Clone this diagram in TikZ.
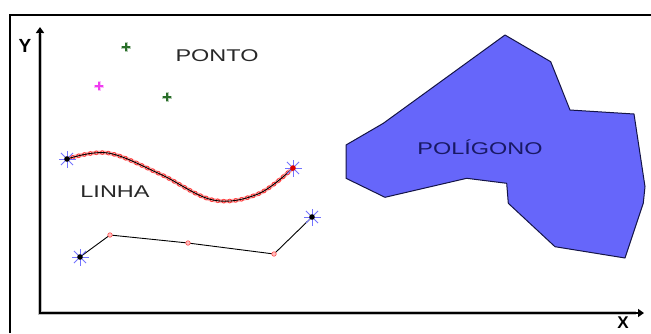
\documentclass[tikz,border=0pt]{standalone}
\usepackage{fontspec}
\setmainfont{Liberation Sans}
\newfontfamily\widefont[FakeStretch=1.38]{Liberation Sans}
\usetikzlibrary{arrows.meta}
\definecolor{polyfill}{RGB}{102,102,250}
\definecolor{polyedge}{RGB}{20,20,70}
\definecolor{polytext}{RGB}{25,25,100}
\definecolor{ptgreen}{RGB}{40,110,40}
\definecolor{ptmag}{RGB}{240,60,240}
\definecolor{txtgray}{RGB}{40,40,40}
\tikzset{
  lbl/.style={font=\widefont\fontsize{17}{19}\selectfont, text=txtgray, inner sep=0pt},
  axlbl/.style={font=\bfseries\fontsize{19}{21}\selectfont, inner sep=0pt},
  starmark/.pic={
    \foreach \a in {0,45,...,315}
      \draw[blue!55, line width=0.8pt] (0,0) -- (\a:8.5);
    \fill[#1] (0,0) circle (2.8);
  },
  starmark/.default={purple!70!blue},
  plusmark/.pic={
    \draw[#1!35, line width=3pt] (-5,0) -- (5,0) (0,-5) -- (0,5);
    \draw[#1, line width=1.4pt] (-4,0) -- (4,0) (0,-4) -- (0,4);
  },
  vtx/.style={draw=red!70, fill=red!25, line width=0.6pt, circle, minimum size=4.5pt, inner sep=0pt},
  beadsout/.style={draw=red!80, line width=4.6pt, line cap=round, dash pattern=on 0pt off 6pt},
  beadsin/.style={draw=red!20, line width=3.0pt, line cap=round, dash pattern=on 0pt off 6pt}
}
\begin{document}
\begin{tikzpicture}[x=1pt,y=-1pt]
\useasboundingbox (0,0) rectangle (651,333);
% frame
\draw[line width=2.4pt] (10,333) -- (10,15) -- (651,15);
% axes
\coordinate (ytop) at (40,27);
\coordinate (origin) at (40,313);
\coordinate (xend) at (644,313);
\draw[gray!50, line width=4.5pt] (40,34) -- (origin) -- (636,313);
\draw[line width=2.6pt, {Triangle[length=6pt,width=8pt]}-{Triangle[length=6pt,width=8pt]}] (ytop) -- (origin) -- (xend);
\node[axlbl] (ylab) at (25,46) {Y};
\node[axlbl, font=\bfseries\fontsize{17}{19}\selectfont] (xlab) at (623,323) {X};
% points
\coordinate (p1) at (126,47);
\coordinate (p2) at (99,86);
\coordinate (p3) at (167,97);
\pic at (p1) {plusmark=ptgreen};
\pic at (p2) {plusmark=ptmag};
\pic at (p3) {plusmark=ptgreen};
\node[lbl] (ponto) at (217,56) {PONTO};
% curve line
\coordinate (c0) at (67,159);
\coordinate (c5) at (293,168);
\draw[red!30, line width=4pt, line cap=round] plot[smooth, tension=0.6] coordinates {(67,159) (108,153) (160,174) (213,200) (258,194) (293,168)};
\draw[beadsout] plot[smooth, tension=0.6] coordinates {(67,159) (108,153) (160,174) (213,200) (258,194) (293,168)};
\draw[beadsin] plot[smooth, tension=0.6] coordinates {(67,159) (108,153) (160,174) (213,200) (258,194) (293,168)};
\draw[black, line width=0.9pt] plot[smooth, tension=0.6] coordinates {(67,159) (108,153) (160,174) (213,200) (258,194) (293,168)};
\pic at (c0) {starmark};
\pic at (c5) {starmark=red!85!black};
\node[lbl] (linha) at (115,192) {LINHA};
% polyline
\coordinate (l0) at (80,257);
\coordinate (l1) at (110,235);
\coordinate (l2) at (188,243);
\coordinate (l3) at (274,254);
\coordinate (l4) at (312,217);
\draw[line width=0.9pt] (l0) -- (l1) -- (l2) -- (l3) -- (l4);
\node[vtx] (v1) at (l1) {};
\node[vtx] (v2) at (l2) {};
\node[vtx] (v3) at (l3) {};
\pic at (l0) {starmark};
\pic at (l4) {starmark};
% polygon
\draw[fill=polyfill, draw=polyedge, line width=1pt, line join=round]
  (505,35) -- (550.7,61.7) -- (570,110) -- (634,114) -- (645,186.7) -- (643.3,203)
  -- (625,258) -- (555,246.7) -- (508.3,203.3) -- (506.7,183.3) -- (466.7,178.3)
  -- (385,197.3) -- (346,178.3) -- (346,145) -- (383.3,123.3) -- cycle;
\node[lbl, text=polytext] (poligono) at (480,147) {POLÍGONO};
\end{tikzpicture}
\end{document}
